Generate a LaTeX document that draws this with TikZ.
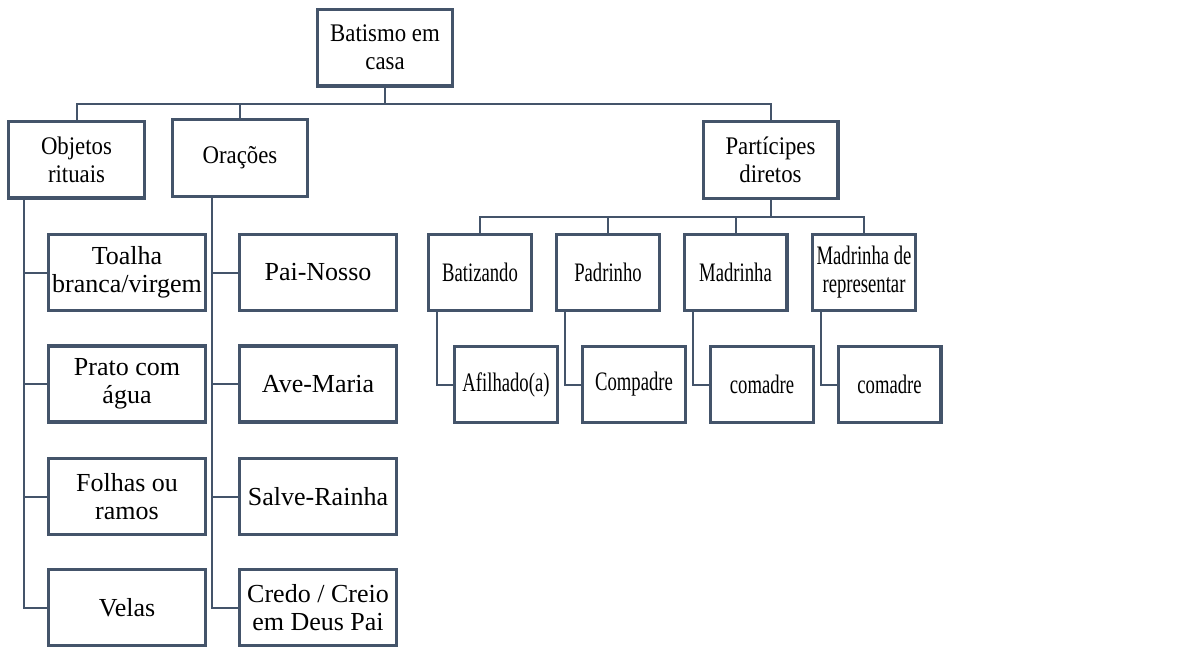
\documentclass[tikz,border=0pt]{standalone}
\usepackage{fontspec}
\setmainfont{Liberation Serif}
\newfontfamily\narrowserif[FakeStretch=0.7]{Liberation Serif}
\newfontfamily\tallserif[FakeStretch=0.9]{Liberation Serif}
\usetikzlibrary{calc}
\definecolor{SLATE}{HTML}{44546A}
\begin{document}
\begin{tikzpicture}[x=0.75pt,y=-0.75pt]
\tikzset{box/.style={draw=SLATE,line width=2.5pt,fill=white,align=center,inner sep=1pt,minimum height=57.5pt,font=\tallserif\fontsize{19}{21}\selectfont},
 leaf/.style={box,minimum width=118pt,minimum height=57pt,font=\fontsize{19.5}{21}\selectfont},
 kin/.style={box,minimum width=77pt,minimum height=57pt,font=\narrowserif\fontsize{20}{21}\selectfont},
 conn/.style={SLATE,line width=1.5pt}}
\useasboundingbox (0,0) rectangle (1201,647);
% top levels
\node[box,minimum width=101pt] (root) at (385,47.5) {Batismo em\\casa};
\node[box,minimum width=102pt] (obj) at (76.5,159.5) {Objetos\\rituais};
\node[box,minimum width=101pt] (ora) at (240,158) {Orações};
\node[box,minimum width=101pt] (part) at (770.5,160) {Partícipes\\diretos};
% objetos rituais
\node[leaf] (obj1) at (127,272.5) {Toalha\\branca/virgem};
\node[leaf] (obj2) at (127,384) {Prato com\\água};
\node[leaf] (obj3) at (127,496.5) {Folhas ou\\ramos};
\node[leaf] (obj4) at (127,607.5) {Velas};
% oracoes
\node[leaf] (ora1) at (318,272.5) {Pai-Nosso};
\node[leaf] (ora2) at (318,384) {Ave-Maria};
\node[leaf] (ora3) at (318,496.5) {Salve-Rainha};
\node[leaf] (ora4) at (318,607.5) {Credo / Creio\\em Deus Pai};
% participes
\node[kin] (bat) at (480,272.5) {Batizando};
\node[kin] (pad) at (608,272.5) {Padrinho};
\node[kin] (mad) at (735.5,272.5) {Madrinha};
\node[kin] (rep) at (864,272.5) {Madrinha de\\representar};
\node[kin] (afi) at (506,384.5) {Afilhado(a)};
\node[kin] (com) at (634,384.5) {Compadre};
\node[kin] (coa) at (762,384.5) {comadre};
\node[kin] (cob) at (889.5,384.5) {comadre};
% connectors
\coordinate (topbus) at (385,104);
\draw[conn] (root.south) -- (topbus);
\foreach \n in {obj,ora,part} \draw[conn] (topbus) -| (\n.north);
\coordinate (partbus) at (770.5,217);
\draw[conn] (part.south) -- (partbus);
\foreach \n in {bat,pad,mad,rep} \draw[conn] (partbus) -| (\n.north);
\foreach \a/\b in {bat/afi,pad/com,mad/coa,rep/cob} \draw[conn] ($(\a.south west)+(10,0)$) |- (\b.west);
\foreach \n in {obj1,obj2,obj3,obj4} \draw[conn] ($(obj.south west)+(17,0)$) |- (\n.west);
\foreach \n in {ora1,ora2,ora3,ora4} \draw[conn] ($(ora.south west)+(41,0)$) |- (\n.west);
\end{tikzpicture}
\end{document}
